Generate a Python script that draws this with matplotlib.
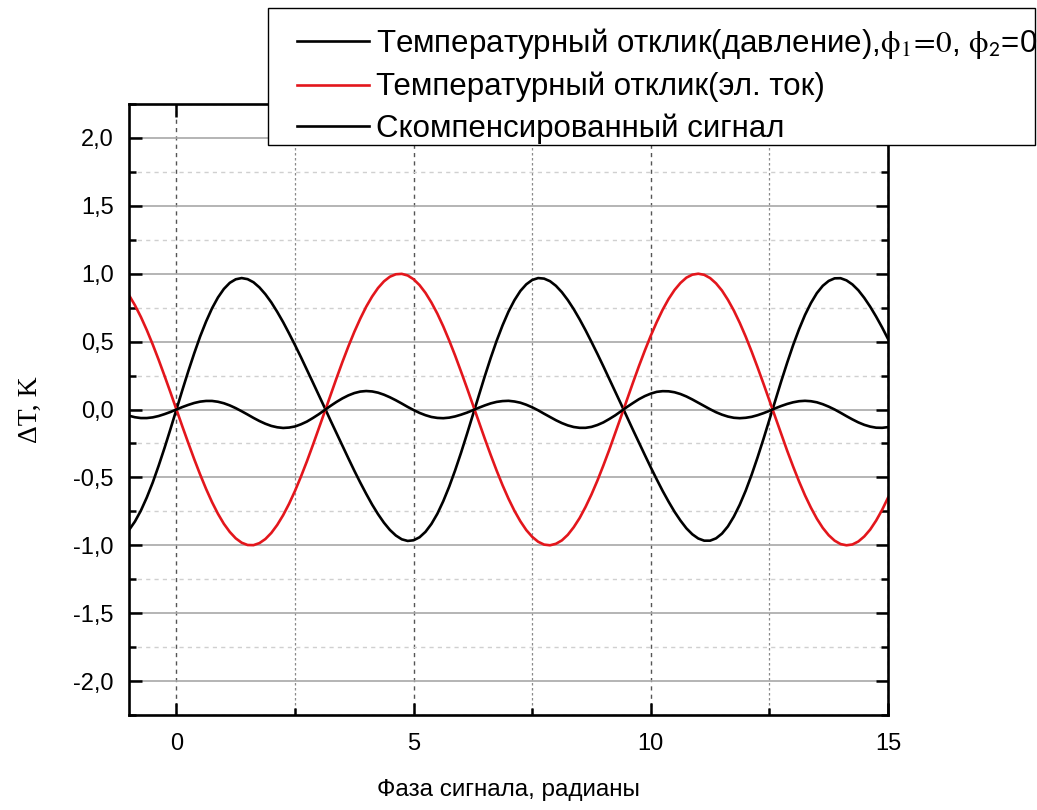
import matplotlib
matplotlib.use('Agg')
import matplotlib.pyplot as plt
import numpy as np
from matplotlib.ticker import MultipleLocator, FuncFormatter
from matplotlib.patches import Rectangle

# ---- data ----
phase = np.arange(-1.0, 15.0001, 0.125)

pressure_resp = [
    -0.888, -0.825, -0.745, -0.648, -0.538, -0.414, -0.282, -0.143,
    0.000, 0.143, 0.282, 0.414, 0.538, 0.648, 0.745, 0.825,
    0.888, 0.933, 0.959, 0.968, 0.960, 0.937, 0.899, 0.849,
    0.789, 0.719, 0.643, 0.560, 0.474, 0.385, 0.293, 0.200,
    0.107, 0.013, -0.082, -0.175, -0.269, -0.360, -0.451, -0.538,
    -0.621, -0.700, -0.771, -0.834, -0.887, -0.928, -0.956, -0.968,
    -0.963, -0.941, -0.901, -0.843, -0.768, -0.675, -0.568, -0.448,
    -0.318, -0.180, -0.038, 0.105, 0.245, 0.380, 0.506, 0.620,
    0.721, 0.805, 0.873, 0.922, 0.954, 0.968, 0.964, 0.945,
    0.911, 0.864, 0.806, 0.739, 0.664, 0.583, 0.497, 0.409,
    0.318, 0.225, 0.132, 0.038, -0.057, -0.151, -0.244, -0.336,
    -0.427, -0.515, -0.600, -0.679, -0.753, -0.818, -0.875, -0.919,
    -0.950, -0.966, -0.966, -0.949, -0.914, -0.861, -0.789, -0.701,
    -0.598, -0.481, -0.353, -0.217, -0.076, 0.067, 0.209, 0.345,
    0.474, 0.591, 0.696, 0.784, 0.857, 0.911, 0.947, 0.966,
    0.967, 0.951, 0.921, 0.878, 0.822, 0.757, 0.684, 0.605,
    0.520]

current_resp = [
    0.842, 0.768, 0.682, 0.585, 0.479, 0.366, 0.247, 0.125,
    0.000, -0.125, -0.247, -0.366, -0.479, -0.585, -0.682, -0.768,
    -0.842, -0.902, -0.949, -0.981, -0.998, -0.999, -0.984, -0.954,
    -0.909, -0.850, -0.778, -0.694, -0.599, -0.494, -0.382, -0.263,
    -0.141, -0.017, 0.108, 0.231, 0.351, 0.465, 0.572, 0.669,
    0.757, 0.832, 0.895, 0.944, 0.978, 0.996, 0.999, 0.987,
    0.959, 0.916, 0.859, 0.788, 0.706, 0.612, 0.508, 0.397,
    0.279, 0.158, 0.033, -0.092, -0.215, -0.335, -0.450, -0.558,
    -0.657, -0.746, -0.823, -0.888, -0.938, -0.974, -0.995, -1.000,
    -0.989, -0.964, -0.923, -0.867, -0.799, -0.717, -0.625, -0.523,
    -0.412, -0.296, -0.174, -0.050, 0.075, 0.199, 0.320, 0.435,
    0.544, 0.644, 0.735, 0.814, 0.880, 0.932, 0.971, 0.993,
    1.000, 0.992, 0.968, 0.929, 0.876, 0.808, 0.729, 0.638,
    0.537, 0.427, 0.311, 0.190, 0.066, -0.059, -0.183, -0.304,
    -0.420, -0.530, -0.632, -0.723, -0.804, -0.872, -0.926, -0.966,
    -0.991, -1.000, -0.994, -0.972, -0.935, -0.884, -0.818, -0.740,
    -0.650]

compensated = [
    -0.046, -0.057, -0.063, -0.063, -0.058, -0.048, -0.034, -0.018,
    0.000, 0.018, 0.034, 0.048, 0.058, 0.063, 0.063, 0.057,
    0.046, 0.030, 0.010, -0.013, -0.037, -0.062, -0.085, -0.105,
    -0.121, -0.131, -0.136, -0.133, -0.125, -0.109, -0.089, -0.063,
    -0.035, -0.004, 0.027, 0.056, 0.082, 0.104, 0.121, 0.132,
    0.136, 0.133, 0.124, 0.109, 0.090, 0.068, 0.044, 0.019,
    -0.004, -0.025, -0.042, -0.055, -0.062, -0.064, -0.060, -0.051,
    -0.038, -0.023, -0.005, 0.013, 0.030, 0.045, 0.056, 0.062,
    0.064, 0.059, 0.050, 0.035, 0.016, -0.006, -0.031, -0.055,
    -0.079, -0.100, -0.117, -0.129, -0.135, -0.135, -0.128, -0.114,
    -0.095, -0.070, -0.043, -0.012, 0.019, 0.048, 0.076, 0.099,
    0.117, 0.130, 0.135, 0.134, 0.127, 0.114, 0.096, 0.074,
    0.050, 0.026, 0.002, -0.020, -0.038, -0.052, -0.061, -0.064,
    -0.061, -0.054, -0.042, -0.027, -0.010, 0.009, 0.026, 0.041,
    0.053, 0.061, 0.064, 0.061, 0.053, 0.039, 0.021, 0.000,
    -0.024, -0.049, -0.073, -0.095, -0.113, -0.126, -0.134, -0.135,
    -0.130]

labels = [
    'Температурный отклик(давление),$\\mathrm{\\phi_1\\!=\\!0}$, $\\mathrm{\\phi}_{\\mathsf{2}}$=0',
    'Температурный отклик(эл. ток)',
    'Скомпенсированный сигнал',
]
colors = ['black', '#e3161c', 'black']

xlabel = 'Фаза сигнала, радианы'
ylabel = 'ΔT, K'

# ---- style ----
plt.rcParams['font.family'] = ['Liberation Sans', 'DejaVu Sans']
plt.rcParams['mathtext.fontset'] = 'stix'

W, H = 1037, 810
fig = plt.figure(figsize=(W / 100, H / 100), dpi=100)
ax = fig.add_axes([129 / W, 1 - 715 / H, (888 - 129) / W, (715 - 104) / H])

series = [pressure_resp, current_resp, compensated]
handles = []
for ys, lab, c in zip(series, labels, colors):
    h, = ax.plot(phase, ys, color=c, lw=1.9, label=lab, solid_joinstyle='round')
    handles.append(h)

ax.set_xlim(-1, 15)
ax.set_ylim(-2.25, 2.25)

ax.xaxis.set_major_locator(MultipleLocator(5))
ax.xaxis.set_minor_locator(MultipleLocator(2.5))
ax.yaxis.set_major_locator(MultipleLocator(0.5))
ax.yaxis.set_minor_locator(MultipleLocator(0.25))
ax.yaxis.set_major_formatter(FuncFormatter(lambda v, p: f"{v:.1f}".replace('.', ',').replace('-0,0', '0,0')))
ax.xaxis.set_major_formatter(FuncFormatter(lambda v, p: f"{v:.0f}"))

ax.yaxis.grid(True, which='major', color='#a8a8a8', lw=1.2, ls='-')
ax.yaxis.grid(True, which='minor', color='#d0d0d0', lw=1.0, ls=(0, (3, 3)))
ax.xaxis.grid(True, which='major', color='#555555', lw=1.0, ls=(0, (3, 3)))
ax.xaxis.grid(True, which='minor', color='#8a8a8a', lw=0.9, ls=(0, (2, 2)))
ax.set_axisbelow(True)

ax.tick_params(which='both', direction='in', top=True, right=True, width=1.8,
               labelsize=17)
ax.tick_params(axis='y', pad=11)
ax.tick_params(axis='x', pad=13)
ax.tick_params(which='major', length=9)
ax.tick_params(which='minor', length=5)
for s in ax.spines.values():
    s.set_linewidth(1.9)

ax.set_xlabel(xlabel, fontsize=17.5, labelpad=17)
ax.set_ylabel(ylabel, fontsize=20, family=['Liberation Serif', 'DejaVu Serif'], labelpad=22)

# legend box (white, black edge) drawn over the plot
box = Rectangle((268 / W, 1 - 145 / H), (1035 - 268) / W, (145 - 8) / H,
                transform=fig.transFigure, facecolor='white', edgecolor='black',
                lw=1.0, zorder=4)
fig.patches.append(box)

leg = fig.legend(handles=handles, labels=labels, loc='center left',
                 bbox_to_anchor=(297 / W, 1 - 85 / H),
                 bbox_transform=fig.transFigure, frameon=False,
                 prop={'size': 22.5},
                 borderpad=0, handlelength=2.3, handletextpad=0.23,
                 labelspacing=0.36, borderaxespad=0)
leg.set_zorder(5)
for line in leg.get_lines():
    line.set_linewidth(1.9)

fig.savefig('out.png', dpi=100)
